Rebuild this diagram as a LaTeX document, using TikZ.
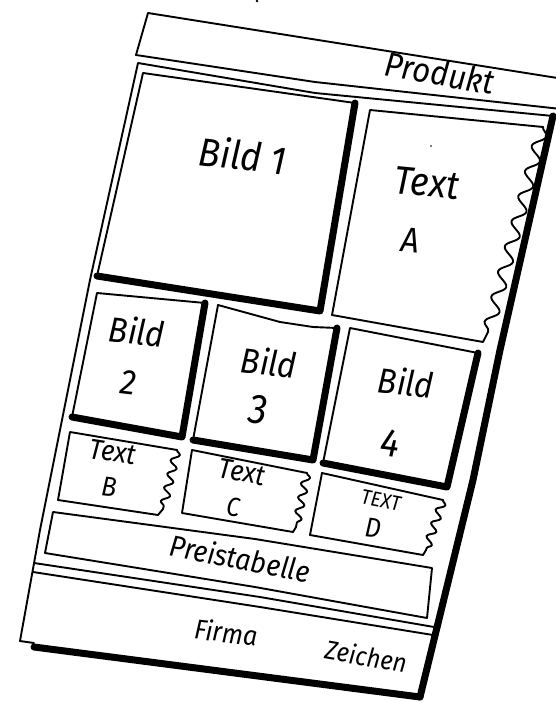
\documentclass[tikz,border=0pt]{standalone}
\usepackage{fontspec}
\setmainfont{Fira Sans}
\usetikzlibrary{decorations.pathmorphing}
\begin{document}
\begin{tikzpicture}[x=1pt,y=-1pt,
  thinline/.style={line width=1.9pt, line cap=round, line join=round},
  thickline/.style={line width=7pt, line cap=round, line join=round},
  wavy/.style 2 args={thinline, decorate, decoration={snake, segment length=#1, amplitude=#2}},
  hw/.style={font=\itshape\fontsize{#1}{#1}\selectfont, inner sep=0pt, yscale=1.1}]
\useasboundingbox (0,0) rectangle (555,703);

% header strip
\coordinate (h1) at (148,13);
\coordinate (h2) at (570,80);
\coordinate (h3) at (570,110);
\coordinate (h4) at (136,55);
\draw[thinline] (h2) -- (h1) -- (h4) -- (315,82) -- (h3);

% page outline
\coordinate (p1) at (138,63);
\coordinate (p2) at (553,116);
\coordinate (p3) at (420,697);
\coordinate (p4) at (20,641);
\draw[thinline] (p2) -- (315,93) -- (p1) -- (90,280) -- (40,530) -- (p4) -- (34,643);
\draw[thickline] (34,647) -- (p3);
\draw[thickline] (p2) -- (500,350) -- (473,480) -- (p3);

% separators above footer
\draw[thinline] (34,563) -- (260,597) -- (434,627);
\draw[thinline] (33,572) -- (260,607) -- (433,635);

% Bild 1
\coordinate (b1a) at (143,73); \coordinate (b1b) at (355,103);
\coordinate (b1c) at (320,311); \coordinate (b1d) at (97,276);
\draw[thinline] (b1d) -- (b1a) -- (b1b);
\draw[thickline] (b1b) -- (b1c) -- (b1d);

% Text A
\coordinate (taa) at (370,110); \coordinate (tab) at (543,127);
\coordinate (tac) at (488,332); \coordinate (tad) at (483,342);
\coordinate (tae) at (332,315);
\draw[thinline] (tac) -- (tad) -- (tae) -- (taa) -- (tab);
\draw[wavy={26pt}{6pt}] (tab) -- (tac);

% Bild 2
\coordinate (b2a) at (97,293); \coordinate (b2b) at (205,303);
\coordinate (b2c) at (182,437); \coordinate (b2d) at (72,417);
\draw[thinline] (b2d) -- (b2a) -- (b2b);
\draw[thickline] (b2b) -- (b2c) -- (b2d);

% Bild 3
\coordinate (b3a) at (218,305); \coordinate (b3b) at (337,328);
\coordinate (b3c) at (313,460); \coordinate (b3d) at (193,440);
\draw[thinline] (b3d) -- (b3a) -- (280,322) -- (313,327) -- (b3b);
\draw[thickline] (b3b) -- (b3c) -- (b3d);

% Bild 4
\coordinate (b4a) at (350,328); \coordinate (b4b) at (478,353);
\coordinate (b4c) at (447,487); \coordinate (b4d) at (323,463);
\draw[thinline] (b4d) -- (b4a) -- (b4b);
\draw[thickline] (b4b) -- (b4c) -- (b4d);

% Text B
\coordinate (tba) at (70,432); \coordinate (tbb) at (177,450);
\coordinate (tbc) at (163,509); \coordinate (tbd) at (158,515);
\coordinate (tbe) at (58,500);
\draw[thinline] (tbc) -- (tbd) -- (tbe) -- (tba) -- (tbb);
\draw[wavy={14pt}{4pt}] (tbb) -- (tbc);

% Text C
\coordinate (tca) at (192,450); \coordinate (tcb) at (307,473);
\coordinate (tcc) at (296,527); \coordinate (tcd) at (293,532);
\coordinate (tce) at (182,513);
\draw[thinline] (tcc) -- (tcd) -- (tce) -- (tca) -- (tcb);
\draw[wavy={14pt}{4pt}] (tcb) -- (tcc);

% Text D
\coordinate (tda) at (322,473); \coordinate (tdb) at (443,500);
\coordinate (tdc) at (426,550); \coordinate (tdd) at (423,555);
\coordinate (tde) at (310,535);
\draw[thinline] (tdc) -- (tdd) -- (tde) -- (tda) -- (tdb);
\draw[wavy={14pt}{4pt}] (tdb) -- (tdc);

% Preistabelle
\draw[thinline] (53,512) -- (255,539) -- (432,568) -- (427,618) -- (255,587) -- (45,553) -- cycle;

% stray dots
\fill (257,1) circle (1.3pt);
\fill (431,146) circle (0.9pt);

% labels
\node[hw=31, rotate=-9] (produkt) at (440,73) {Produkt};
\node[hw=36, rotate=-6] (bild1) at (243,155) {Bild 1};
\node[hw=36, rotate=-5] (texta1) at (427,183) {Text};
\node[hw=32, rotate=-5] (texta2) at (410,240) {A};
\node[hw=32, rotate=-6] (bild2a) at (137,331) {Bild};
\node[hw=32, rotate=-6] (bild2b) at (128,383) {2};
\node[hw=32, rotate=-6] (bild3a) at (269,362) {Bild};
\node[hw=38, rotate=-6] (bild3b) at (258,410) {3};
\node[hw=32, rotate=-6] (bild4a) at (406,382) {Bild};
\node[hw=36, rotate=-6] (bild4b) at (390,443) {4};
\node[hw=26, rotate=-8] (textb1) at (113,452) {Text};
\node[hw=25, rotate=-6] (textb2) at (109,487) {B};
\node[hw=26, rotate=-9] (textc1) at (242,472) {Text};
\node[hw=24, rotate=-6] (textc2) at (233,507) {C};
\node[hw=19, rotate=-10] (textd1) at (381,500) {TEXT};
\node[hw=25, rotate=-6] (textd2) at (373,528) {D};
\node[hw=27, rotate=-10] (preis) at (240,558) {Preistabelle};
\node[hw=25, rotate=-6] (firma) at (226,632) {Firma};
\node[hw=24, rotate=-9] (zeichen) at (366,656) {Zeichen};
\end{tikzpicture}
\end{document}
